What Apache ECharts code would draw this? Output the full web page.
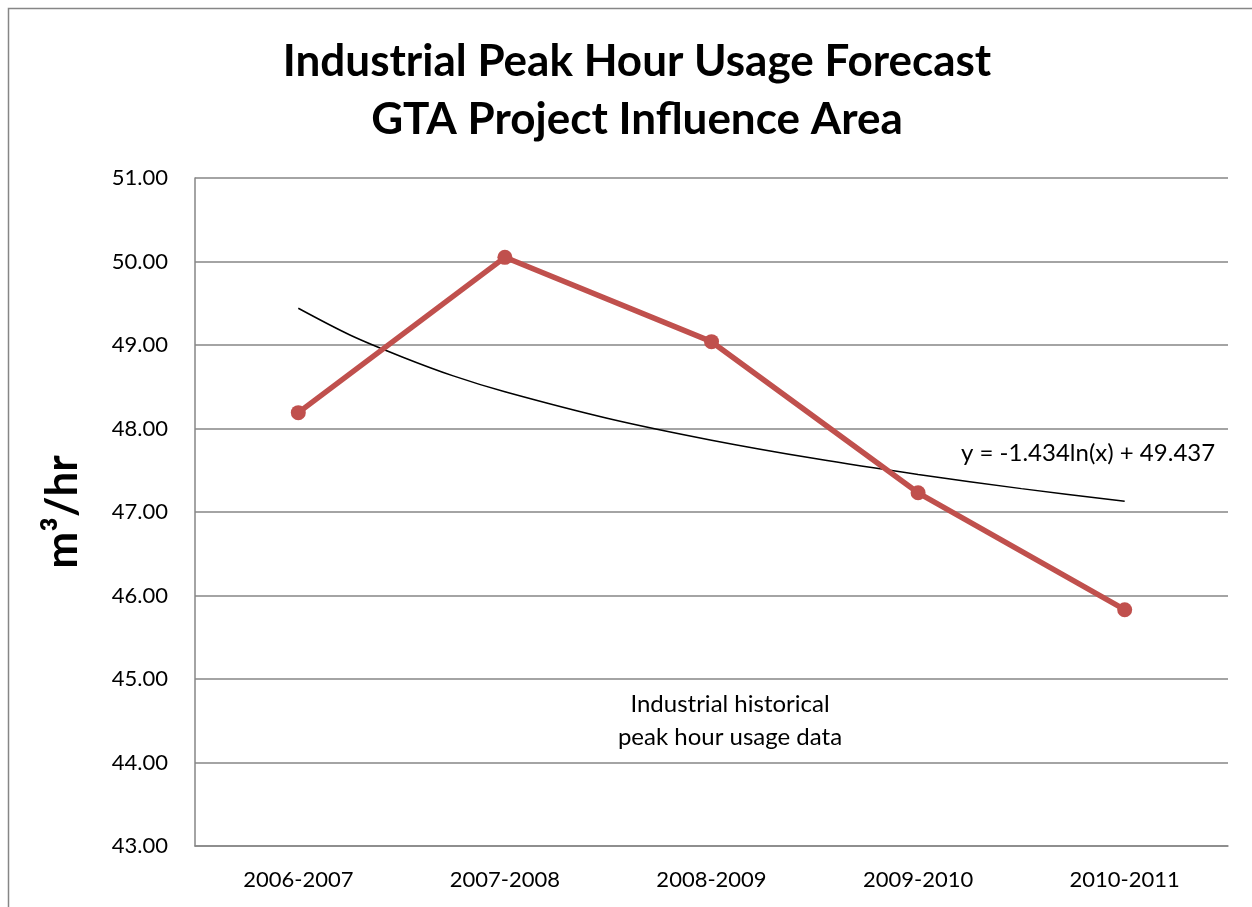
<!DOCTYPE html>
<html>
<head>
<meta charset="utf-8">
<script src="https://cdn.jsdelivr.net/npm/echarts@6/dist/echarts.min.js"></script>
<style>
    html, body { margin: 0; padding: 0; background: #fff; }
    #main { width: 1252px; height: 907px; }
</style>
</head>
<body>
<div id="main"></div>
<script>
var years = ['2006-2007', '2007-2008', '2008-2009', '2009-2010', '2010-2011'];
var usage = [48.19, 50.05, 49.04, 47.23, 45.83];
// trend line
var trendX = [1, 1.25, 1.5, 1.75, 2, 2.5, 3, 3.5, 4, 4.5, 5];
var trendY = [49.44, 49.12, 48.86, 48.63, 48.44, 48.12, 47.86, 47.64, 47.45, 47.28, 47.13];
var yTicks = [43, 44, 45, 46, 47, 48, 49, 50, 51];

~function () {
    var myChart = echarts.init(document.getElementById('main'));
    var font = 'Lato, "Open Sans", sans-serif';
    var trend = trendX.map(function (x, i) { return [x, trendY[i]]; });
    var option = {
        backgroundColor: '#fff',
        animation: false,
        title: {
            text: 'Industrial Peak Hour Usage Forecast\nGTA Project Influence Area',
            left: 632,
            top: 28,
            textAlign: 'center',
            textStyle: {
                fontFamily: font,
                fontSize: 44,
                fontWeight: 'bold',
                color: '#000',
                lineHeight: 58
            }
        },
        graphic: [
            {
                type: 'rect',
                shape: {x: 8.5, y: 8.5, width: 1260, height: 920},
                style: {fill: 'none', stroke: '#868686', lineWidth: 1.5},
                silent: true
            },
            {
                type: 'text',
                style: {
                    x: 961, y: 453, text: 'y = -1.434ln(x) + 49.437',
                    font: '24px ' + font, fill: '#000', verticalAlign: 'middle'
                }
            },
            {
                type: 'text',
                style: {
                    x: 730, y: 721,
                    text: 'Industrial historical\npeak hour usage data',
                    font: '24px ' + font, fill: '#000', align: 'center',
                    verticalAlign: 'middle', lineHeight: 33
                }
            }
        ],
        grid: {left: 195, right: 24, top: 178, bottom: 61},
        xAxis: [
            {
                type: 'category',
                data: years,
                boundaryGap: true,
                axisLine: {lineStyle: {color: '#868686', width: 1.5}},
                axisTick: {show: false},
                axisLabel: {fontFamily: font, fontSize: 22, color: '#000', margin: 23}
            },
            {
                type: 'value',
                min: 0.5,
                max: 5.5,
                show: false
            }
        ],
        yAxis: [
            {
                type: 'value',
                min: yTicks[0],
                max: yTicks[yTicks.length - 1],
                interval: 1,
                name: 'm³/hr',
                nameLocation: 'middle',
                nameGap: 110,
                nameRotate: 90,
                nameTextStyle: {fontFamily: font, fontSize: 44, fontWeight: 'bold', color: '#000'},
                axisLine: {show: true, lineStyle: {color: '#868686', width: 1.5}},
                axisTick: {show: false},
                splitLine: {lineStyle: {color: '#868686', width: 1.5}},
                axisLabel: {
                    fontFamily: font, fontSize: 22, color: '#000', margin: 27,
                    formatter: function (v) { return v.toFixed(2); }
                }
            }
        ],
        series: [
            {
                type: 'line',
                xAxisIndex: 1,
                data: trend,
                smooth: 0.3,
                symbol: 'none',
                lineStyle: {color: '#000', width: 1.5},
                z: 3
            },
            {
                type: 'line',
                data: usage,
                symbol: 'circle',
                symbolSize: 15,
                itemStyle: {color: '#C0504D'},
                lineStyle: {color: '#C0504D', width: 5.5},
                z: 4
            }
        ]
    };
    myChart.setOption(option);
}();
</script>
</body>
</html>
